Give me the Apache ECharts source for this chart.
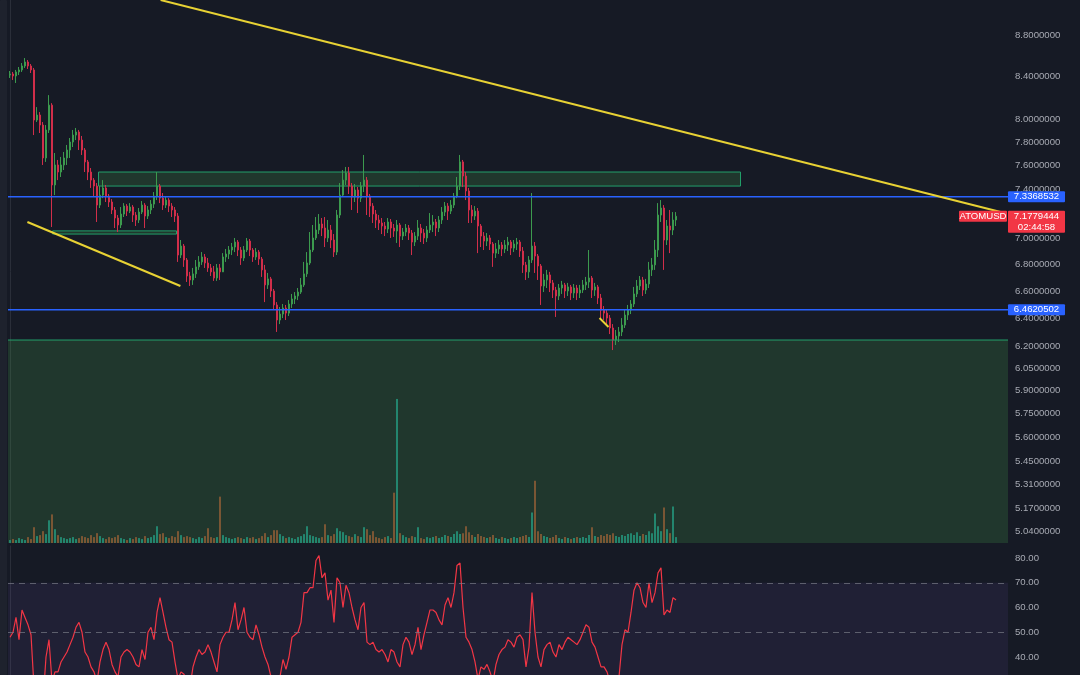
<!DOCTYPE html>
<html>
<head>
<meta charset="utf-8">
<script src="https://cdn.jsdelivr.net/npm/echarts@6/dist/echarts.min.js"></script>
<style>
  html, body { margin: 0; padding: 0; background: #161a25; }
  #chart { width: 1080px; height: 675px; }
</style>
</head>
<body>
<div id="chart"></div>
<script>
// ATOMUSD candles (open of each bar = previous close)
const firstOpen = 8.413;
const closes = [
  8.423, 8.404, 8.442, 8.461, 8.499, 8.537, 8.499, 8.461, 7.998, 8.043,
  7.953, 7.664, 7.909, 8.133, 7.435, 7.604, 7.544, 7.604, 7.664, 7.733,
  7.803, 7.864, 7.891, 7.820, 7.733, 7.630, 7.544, 7.476, 7.426, 7.269,
  7.351, 7.410, 7.343, 7.294, 7.229, 7.164, 7.108, 7.196, 7.261, 7.220,
  7.253, 7.188, 7.148, 7.212, 7.269, 7.180, 7.229, 7.277, 7.343, 7.426,
  7.326, 7.269, 7.310, 7.261, 7.229, 7.180, 6.872, 6.942, 6.834, 6.712,
  6.682, 6.728, 6.781, 6.819, 6.857, 6.811, 6.773, 6.743, 6.697, 6.773,
  6.743, 6.857, 6.880, 6.911, 6.934, 6.973, 6.911, 6.849, 6.911, 6.981,
  6.911, 6.857, 6.895, 6.841, 6.758, 6.645, 6.690, 6.600, 6.497, 6.388,
  6.431, 6.475, 6.438, 6.504, 6.541, 6.563, 6.592, 6.645, 6.728, 6.811,
  6.911, 7.005, 7.068, 7.116, 7.084, 7.005, 7.068, 6.989, 6.895, 7.188,
  7.351, 7.476, 7.536, 7.426, 7.335, 7.393, 7.326, 7.426, 7.476, 7.343,
  7.261, 7.196, 7.148, 7.124, 7.100, 7.076, 7.132, 7.084, 7.060, 7.108,
  7.020, 7.052, 7.084, 7.044, 6.973, 7.020, 7.084, 7.044, 7.005, 7.068,
  7.108, 7.132, 7.084, 7.148, 7.212, 7.261, 7.220, 7.269, 7.343, 7.426,
  7.630, 7.510, 7.385, 7.229, 7.180, 7.220, 7.100, 7.020, 6.981, 7.005,
  6.958, 6.887, 6.919, 6.950, 6.919, 6.950, 6.973, 6.926, 6.958, 6.973,
  6.903, 6.796, 6.743, 6.834, 6.942, 6.864, 6.788, 6.637, 6.682, 6.720,
  6.660, 6.607, 6.563, 6.622, 6.645, 6.600, 6.630, 6.585, 6.622, 6.585,
  6.607, 6.645, 6.667, 6.697, 6.607, 6.630, 6.548, 6.460, 6.438, 6.402,
  6.331, 6.246, 6.274, 6.303, 6.352, 6.424, 6.460, 6.504, 6.578, 6.637,
  6.682, 6.607, 6.652, 6.758, 6.796, 6.911, 7.188, 7.245, 6.989, 7.100,
  7.068, 7.148, 7.1779444
];
const highs = [
  8.451, 8.442, 8.461, 8.489, 8.527, 8.575, 8.556, 8.518, 8.480, 8.115,
  8.070, 7.980, 7.953, 8.225, 8.151, 7.707, 7.647, 7.673, 7.716, 7.777,
  7.838, 7.909, 7.927, 7.909, 7.856, 7.750, 7.647, 7.578, 7.493, 7.451,
  7.426, 7.476, 7.435, 7.360, 7.318, 7.253, 7.188, 7.253, 7.285, 7.277,
  7.285, 7.269, 7.212, 7.245, 7.302, 7.285, 7.261, 7.310, 7.376, 7.544,
  7.443, 7.368, 7.343, 7.326, 7.285, 7.253, 7.204, 6.989, 6.958, 6.849,
  6.743, 6.773, 6.834, 6.864, 6.895, 6.880, 6.849, 6.803, 6.788, 6.803,
  6.803, 6.887, 6.919, 6.942, 6.966, 7.005, 6.989, 6.934, 6.942, 7.005,
  6.997, 6.926, 6.926, 6.911, 6.857, 6.796, 6.735, 6.705, 6.615, 6.518,
  6.482, 6.504, 6.497, 6.533, 6.578, 6.592, 6.622, 6.697, 6.819, 6.895,
  7.052, 7.108, 7.172, 7.196, 7.164, 7.172, 7.148, 7.108, 7.036, 7.229,
  7.451, 7.561, 7.587, 7.587, 7.451, 7.443, 7.418, 7.460, 7.690, 7.502,
  7.360, 7.285, 7.229, 7.188, 7.164, 7.132, 7.164, 7.156, 7.116, 7.148,
  7.124, 7.084, 7.116, 7.108, 7.068, 7.052, 7.148, 7.116, 7.076, 7.100,
  7.204, 7.188, 7.156, 7.180, 7.253, 7.294, 7.285, 7.310, 7.368, 7.502,
  7.690, 7.647, 7.544, 7.410, 7.269, 7.261, 7.245, 7.116, 7.052, 7.044,
  7.028, 6.973, 6.966, 6.989, 6.973, 6.989, 7.013, 6.989, 6.989, 7.005,
  6.989, 6.934, 6.819, 6.864, 7.368, 6.973, 6.880, 6.803, 6.728, 6.758,
  6.743, 6.682, 6.630, 6.652, 6.675, 6.660, 6.660, 6.645, 6.652, 6.645,
  6.645, 6.682, 6.705, 6.911, 6.712, 6.660, 6.645, 6.578, 6.489, 6.467,
  6.424, 6.359, 6.317, 6.338, 6.402, 6.460, 6.497, 6.533, 6.630, 6.682,
  6.712, 6.705, 6.690, 6.819, 6.849, 6.989, 7.285, 7.310, 7.269, 7.148,
  7.229, 7.212, 7.212
];
const lows = [
  8.385, 8.366, 8.338, 8.413, 8.442, 8.480, 8.470, 8.432, 7.864, 7.980,
  7.882, 7.604, 7.630, 7.882, 7.092, 7.351, 7.476, 7.502, 7.561, 7.604,
  7.664, 7.759, 7.820, 7.733, 7.690, 7.544, 7.476, 7.410, 7.335, 7.132,
  7.245, 7.326, 7.294, 7.253, 7.196, 7.084, 7.052, 7.084, 7.172, 7.180,
  7.204, 7.132, 7.100, 7.124, 7.196, 7.084, 7.156, 7.196, 7.245, 7.310,
  7.285, 7.229, 7.245, 7.212, 7.172, 7.132, 6.819, 6.849, 6.781, 6.667,
  6.637, 6.645, 6.697, 6.758, 6.796, 6.773, 6.743, 6.712, 6.675, 6.675,
  6.682, 6.743, 6.819, 6.841, 6.872, 6.895, 6.864, 6.796, 6.826, 6.895,
  6.864, 6.819, 6.834, 6.796, 6.705, 6.518, 6.615, 6.555, 6.460, 6.303,
  6.359, 6.402, 6.388, 6.417, 6.475, 6.504, 6.533, 6.578, 6.630, 6.705,
  6.796, 6.895, 6.989, 7.036, 7.020, 6.934, 6.973, 6.926, 6.857, 6.872,
  7.164, 7.335, 7.435, 7.360, 7.229, 7.294, 7.204, 7.294, 7.376, 7.188,
  7.172, 7.124, 7.084, 7.068, 7.036, 7.020, 7.044, 7.005, 7.013, 6.966,
  6.934, 6.989, 7.020, 6.989, 6.872, 6.942, 6.989, 6.973, 6.958, 6.973,
  7.044, 7.052, 7.020, 7.052, 7.116, 7.180, 7.148, 7.196, 7.245, 7.326,
  7.393, 7.418, 7.310, 7.124, 7.124, 7.148, 6.887, 6.934, 6.911, 6.942,
  6.911, 6.781, 6.849, 6.880, 6.864, 6.887, 6.903, 6.872, 6.895, 6.911,
  6.857, 6.735, 6.682, 6.697, 6.811, 6.735, 6.682, 6.497, 6.592, 6.622,
  6.592, 6.548, 6.410, 6.533, 6.578, 6.548, 6.563, 6.533, 6.548, 6.533,
  6.548, 6.585, 6.607, 6.622, 6.548, 6.563, 6.504, 6.402, 6.388, 6.345,
  6.288, 6.176, 6.211, 6.232, 6.274, 6.331, 6.388, 6.431, 6.482, 6.555,
  6.607, 6.563, 6.578, 6.622, 6.712, 6.758, 6.857, 7.132, 6.758, 6.950,
  6.887, 7.028, 7.100
];
const volumes = [
  3, 4, 3, 5, 4, 3, 6, 4, 16, 7,
  8, 12, 9, 23, 29, 14, 8, 6, 5, 4,
  5, 6, 4, 5, 7, 6, 5, 8, 6, 10,
  7, 5, 4, 6, 5, 6, 8, 5, 4, 3,
  5, 4, 6, 5, 4, 7, 5, 6, 8, 17,
  9, 10, 6, 5, 7, 6, 12, 8, 6, 7,
  6, 5, 4, 6, 5, 7, 15, 6, 5, 6,
  47, 8, 6, 5, 4, 5, 6, 5, 4, 6,
  5, 6, 4, 5, 7, 10, 6, 8, 13, 13,
  9, 7, 5, 6, 5, 4, 6, 7, 9, 17,
  8, 7, 6, 5, 6, 19, 8, 7, 9, 15,
  12, 11, 8, 7, 6, 9, 7, 6, 16, 14,
  8, 12, 6, 5, 4, 6, 7, 5, 51, 146,
  10, 8, 6, 5, 7, 6, 16, 5, 4, 6,
  5, 6, 7, 5, 6, 8, 7, 6, 9, 12,
  9, 10, 17, 11, 8, 6, 9, 7, 6, 5,
  6, 8, 5, 4, 6, 5, 4, 5, 6, 5,
  6, 7, 8, 6, 31, 63, 12, 9, 7, 6,
  5, 6, 8, 5, 4, 6, 5, 4, 5, 6,
  5, 6, 5, 8, 16, 7, 6, 8, 7, 9,
  8, 10, 7, 6, 8, 7, 9, 10, 8, 11,
  7, 9, 8, 12, 10, 30, 17, 12, 36, 14,
  10, 37, 6
];
const rsi = [
  48, 50, 56, 47, 59, 56, 53, 49, 28, 27,
  25, 22, 40, 47, 30, 34, 34, 38, 40, 42,
  45, 48, 52, 54, 50, 42, 40, 36, 34, 30,
  38, 43, 46, 43, 37, 34, 32, 40, 42, 43,
  42, 40, 37, 36, 43, 39, 50, 52, 47, 58,
  64, 58, 52, 47, 46, 38, 31, 34, 33, 30,
  28, 36, 40, 43, 41, 42, 45, 42, 38, 34,
  45, 48, 50, 50, 55, 62, 51, 55, 60, 50,
  48, 47, 53, 49, 44, 40, 37, 32, 30, 28,
  32, 39, 35, 40, 48, 49, 50, 54, 66, 66,
  68, 68, 79, 81, 72, 74, 63, 67, 54, 72,
  70, 60, 69, 66, 60, 55, 51, 60, 62, 46,
  45, 46, 43, 42, 43, 41, 38, 43, 42, 38,
  36, 45, 48, 46, 41, 45, 52, 43, 49, 54,
  59, 59, 58, 55, 53, 61, 64, 60, 66, 77,
  78, 60, 48, 46, 43, 38, 31, 36, 35, 37,
  34, 30, 37, 41, 43, 44, 47, 46, 44, 48,
  49, 47, 36, 44, 66, 50, 40, 36, 43, 45,
  46, 42, 40, 45, 43, 46, 48, 47, 46, 45,
  47, 50, 53, 52, 46, 44, 40, 36, 36, 34,
  30, 27, 28, 32, 45, 51, 50, 58, 67, 70,
  68, 62, 60, 70, 62, 66, 74, 76, 57, 59,
  58, 64, 63
];

const priceTicks = [8.8, 8.4, 8.0, 7.8, 7.6, 7.4, 7.0, 6.8, 6.6, 6.4, 6.2, 6.05, 5.9, 5.75, 5.6, 5.45, 5.31, 5.17, 5.04];
const rsiTicks = [80, 70, 60, 50, 40];
const rsiLevels = [70, 50];
const rsiBand = [30, 70];
const priceRange = [4.972, 9.153];
const rsiRange = [32.73, 84.85];
const hLevels = [7.3368532, 6.4620502];
const lastPrice = 7.1779444;
const countdown = '02:44:58';
const symbol = 'ATOMUSD';
// drawings: [barIndex, price]
const trendLines = [
  [[50.2, 9.153], [330.2, 7.213]],
  [[5.8, 7.132], [56.8, 6.637]],
  [[196.5, 6.402], [199.5, 6.338]]
];
const boxes = [
  [[29.5, 7.544], [243.5, 7.426]],
  [[14.2, 7.061], [55.5, 7.036]]
];
const demandTop = 6.246;

const UP = '#3c9a4e', DOWN = '#d12e4a';
const VOL_UP = '#23856e', VOL_DOWN = '#7a5634';
const BLUE = '#2962ff', YELLOW = '#e8d234', ZONE_LINE = '#22a06b';
const LABEL = { color: '#a8abb4', fontSize: 9.6, fontFamily: 'Liberation Sans' };
const ln = Math.log;

const candles = closes.map((c, i) => {
  const o = i === 0 ? firstOpen : closes[i - 1];
  const h = Math.max(highs[i], o, c), l = Math.min(lows[i], o, c);
  return [i, ln(o), ln(c), ln(l), ln(h)];
});
const volData = volumes.map((v, i) => ({
  value: [i, v],
  itemStyle: { color: candles[i][2] >= candles[i][1] ? VOL_UP : VOL_DOWN }
}));

const boxStyle = { color: 'rgba(76,175,80,0.2)', borderColor: ZONE_LINE, borderWidth: 1 };
const xMin = -0.6667, xMax = 332.6667;
const solid = (color, width) => ({ color: color, width: width, type: 'solid', opacity: 1 });

// horizontal price levels as plain two-point line series across the pane
const levelSeries = (p, color, width) => ({
  type: 'line', xAxisIndex: 0, yAxisIndex: 0, z: 4, silent: true,
  showSymbol: false, symbol: 'none',
  data: [[xMin, ln(p)], [xMax, ln(p)]],
  lineStyle: solid(color, width)
});

const option = {
  backgroundColor: '#161a25',
  animation: false,
  grid: [
    { left: 8, right: 72, top: 0, height: 543 },
    { left: 8, right: 72, top: 395, height: 148 },
    { left: 8, right: 72, top: 546, bottom: 0 }
  ],
  xAxis: [0, 1, 2].map(g => ({ type: 'value', gridIndex: g, min: xMin, max: xMax, show: false })),
  yAxis: [
    {
      type: 'value', gridIndex: 0, position: 'right',
      min: ln(priceRange[0]), max: ln(priceRange[1]),
      axisLine: { show: true, lineStyle: { color: '#2a2e39' } },
      axisTick: { show: false }, splitLine: { show: false },
      axisLabel: Object.assign({
        customValues: priceTicks.map(ln), margin: 7,
        formatter: v => (Math.round(Math.exp(v) * 100) / 100).toFixed(7)
      }, LABEL)
    },
    { type: 'value', gridIndex: 1, min: 0, max: 150, show: false },
    {
      type: 'value', gridIndex: 2, position: 'right',
      min: rsiRange[0], max: rsiRange[1],
      axisLine: { show: true, lineStyle: { color: '#2a2e39' } },
      axisTick: { show: false }, splitLine: { show: false },
      axisLabel: Object.assign({
        customValues: rsiTicks, margin: 7,
        formatter: v => v.toFixed(2)
      }, LABEL)
    }
  ],
  series: [
    {
      type: 'candlestick', xAxisIndex: 0, yAxisIndex: 0,
      data: candles, barWidth: 2,
      itemStyle: { color: UP, color0: DOWN, borderColor: UP, borderColor0: DOWN, borderWidth: 1 },
      markArea: {
        silent: true,
        data: [
          [{ yAxis: ln(demandTop), itemStyle: { color: 'rgba(76,175,80,0.2)', borderWidth: 0 } },
           { yAxis: ln(priceRange[0]) }]
        ].concat(boxes.map(b => [
          { coord: [b[0][0], ln(b[0][1])], itemStyle: boxStyle },
          { coord: [b[1][0], ln(b[1][1])] }
        ]))
      },
      markLine: {
        silent: true, symbol: ['none', 'none'], label: { show: false },
        lineStyle: solid(YELLOW, 2),
        data: trendLines.map(t => [
          { coord: [t[0][0], ln(t[0][1])] },
          { coord: [t[1][0], ln(t[1][1])] }
        ])
      }
    },
    levelSeries(demandTop, ZONE_LINE, 1),
    levelSeries(hLevels[0], BLUE, 1.4),
    levelSeries(hLevels[1], BLUE, 1.4),
    {
      type: 'bar', xAxisIndex: 1, yAxisIndex: 1,
      data: volData, barWidth: 2
    },
    {
      type: 'line', xAxisIndex: 2, yAxisIndex: 2,
      data: rsi.map((v, i) => [i, v]),
      showSymbol: false, lineStyle: { color: '#f23645', width: 1.2 },
      markArea: {
        silent: true,
        data: [[{ yAxis: rsiBand[0], itemStyle: { color: 'rgba(126,87,194,0.1)' } }, { yAxis: rsiBand[1] }]]
      },
      markLine: {
        silent: true, symbol: ['none', 'none'], label: { show: false },
        lineStyle: { color: '#787b86', width: 1, type: [6, 5], opacity: 0.7 },
        data: rsiLevels.map(v => ({ yAxis: v }))
      }
    }
  ]
};

const chart = echarts.init(document.getElementById('chart'));
chart.setOption(option);

// price tags on the axis
const yOf = p => chart.convertToPixel({ yAxisIndex: 0 }, ln(p));
const txt = (x, y, text) => ({
  type: 'text', x: x, y: y, z: 101,
  style: { text: text, fill: '#ffffff', fontSize: 9.6, fontFamily: 'Liberation Sans', align: 'center', verticalAlign: 'middle' }
});
const rect = (x, y, w, h, fill) => ({ type: 'rect', z: 100, shape: { x: x, y: y, width: w, height: h, r: 1 }, style: { fill: fill } });
const graphics = [rect(0, 0, 7, 675, '#1e222d')];
hLevels.forEach(p => {
  const y = yOf(p);
  graphics.push(rect(1008, y - 5.5, 57, 11, BLUE), txt(1036.5, y, p.toFixed(7)));
});
const yl = yOf(lastPrice);
graphics.push(
  rect(1008, yl - 5.5, 57, 22, '#f23645'),
  txt(1036.5, yl, lastPrice.toFixed(7)),
  txt(1036.5, yl + 11, countdown),
  rect(959, yl - 5.5, 48, 11, '#f23645'),
  txt(983, yl, symbol)
);
chart.setOption({ graphic: graphics });
</script>
</body>
</html>
